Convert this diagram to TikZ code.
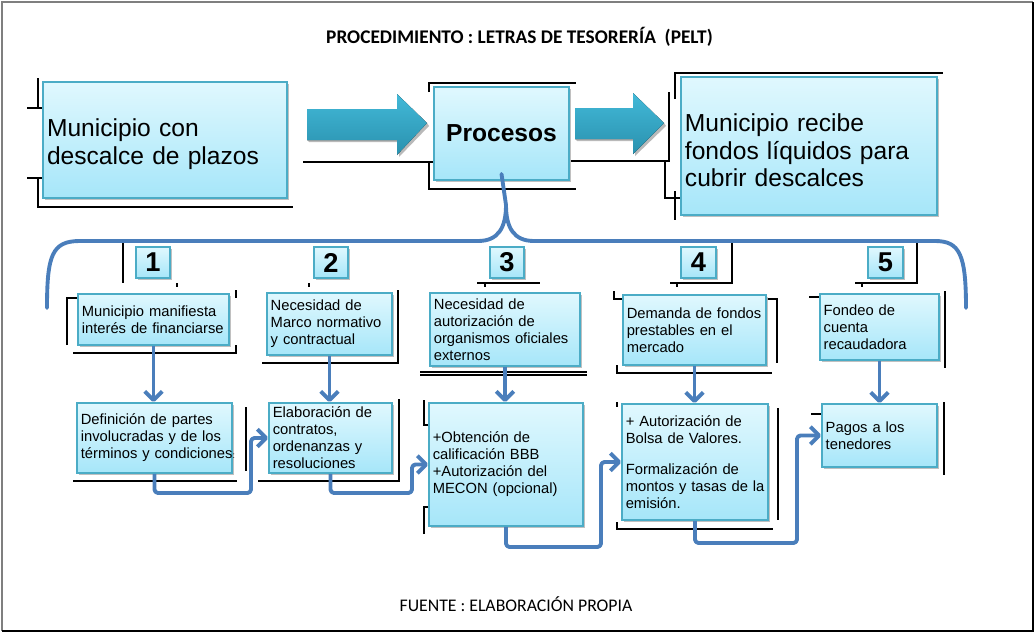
\documentclass[tikz,border=0pt]{standalone}
\usepackage{fontspec}
\setmainfont{Liberation Sans}
\newfontfamily\calib{Carlito}
\usetikzlibrary{arrows.meta,shadows}
\definecolor{boxtop}{HTML}{E0F8FE}
\definecolor{boxbot}{HTML}{A6E6F9}
\definecolor{boxline}{HTML}{4BACC6}
\definecolor{arrtop}{HTML}{42B9D8}
\definecolor{arrbot}{HTML}{2A91AE}
\definecolor{connc}{HTML}{4A7EBB}
\definecolor{framec}{HTML}{7F7F7F}
\begin{document}
\begin{tikzpicture}[x=0.02cm,y=-0.02cm,
  box/.style={draw=boxline, line width=1.1pt, top color=boxtop, bottom color=boxbot,
    inner xsep=2pt, inner ysep=1pt, align=left,
    drop shadow={shadow xshift=1.4pt, shadow yshift=-1.4pt, fill=gray!55, opacity=0.9}},
  small/.style={box, font=\fontsize{8.4}{9.7}\selectfont},
  big/.style={box, font=\fontsize{14}{15.9}\selectfont},
  num/.style={box, font=\fontsize{15.5}{16}\selectfont\bfseries, inner sep=0pt,
    minimum width=0.68cm, minimum height=0.62cm, align=center},
  conn/.style={draw=connc, line width=2.2pt, rounded corners=2pt, line join=round},
  arr/.style={conn, -{Straight Barb[length=5pt,width=10pt,line join=round]}},
  stray/.style={draw=black, line width=0.6pt},
  bigarrow/.style={top color=arrtop, bottom color=arrbot, draw=none}
]
\useasboundingbox (0,0) rectangle (1035,632);
% outer frame
\draw[framec, line width=1.3pt] (2,631) -- (2,2) -- (1033,2);
\draw[black, line width=0.8pt] (1033,2) -- (1033,631) -- (2,631);

% title and source
\node[font=\calib\bfseries\fontsize{11}{13}\selectfont] (title) at (519.5,37) {PROCEDIMIENTO : LETRAS DE TESORERÍA\ \ (PELT)};
\node[font=\calib\fontsize{10.1}{12}\selectfont] (src) at (516,604) {FUENTE : ELABORACIÓN PROPIA};

% stray frame lines
\draw[stray] (38,78) -- (38,108) (27,108) -- (43,108);
\draw[stray] (27,178) -- (43,178) (38,178) -- (38,207) -- (293,207);
\draw[stray] (429,92) -- (429,83) -- (576,83);
\draw[stray] (303,162) -- (434,162) (429,162) -- (429,189) -- (576,189);
\draw[stray] (571,161) -- (669,161) -- (669,92);
\draw[stray] (665,161) -- (665,198) -- (681,198);
\draw[stray] (675,99) -- (675,73) -- (943,73) (675,191) -- (675,220);
\draw[stray] (123,241) -- (123,283) (177,283) -- (177,287);
\draw[stray] (67,345) -- (67,298) -- (78,298) (236,290) -- (236,298) (73,353) -- (236,353) -- (236,345);
\draw[stray] (309,283) -- (309,287);
\draw[stray] (398,290) -- (398,363) -- (262,363);
\draw[stray] (477,283) -- (540,283) (485,283) -- (485,287);
\draw[stray] (420,372) -- (587,372) (420,375) -- (587,375);
\draw[stray] (732,241) -- (732,283) -- (670,283) (677,283) -- (677,287);
\draw[stray] (614,291) -- (614,299) -- (623,299) (766,299) -- (777,299) -- (777,363) (617,365) -- (617,373) -- (772,373);
\draw[stray] (917,241) -- (917,283) -- (855,283) (862,283) -- (862,287);
\draw[stray] (809,297) -- (820,297) (945,291) -- (945,368);
\draw[stray] (246,407) -- (246,471) (73,481) -- (237,481);
\draw[stray] (399,399) -- (399,481) -- (258,481);
\draw[stray] (424,400) -- (424,425) -- (429,425) (424,534) -- (424,507) -- (429,507);
\draw[stray] (617,402) -- (617,407) (778,408) -- (778,520) (617,522) -- (617,529) -- (773,529);
\draw[stray] (811,414) -- (822,414) (944,402) -- (944,475);

% big block arrows
\fill[gray!55] (309,142) -- (399,142) -- (399,157) -- (429,126) -- (427,123) -- (397,155) -- (397,140) -- (307,140) -- cycle;
\fill[bigarrow] (307,109) -- (397,109) -- (397,94) -- (427,123) -- (397,155) -- (397,140) -- (307,140) -- cycle;
\fill[gray!55] (577,141) -- (635,141) -- (635,156) -- (666,126) -- (664,123) -- (633,154) -- (633,139) -- (575,139) -- cycle;
\fill[bigarrow] (575,108) -- (633,108) -- (633,93) -- (664,123) -- (633,154) -- (633,139) -- (575,139) -- cycle;

% main boxes
\node[big, minimum width=4.88cm, minimum height=2.32cm, text width=134.3pt] (A) at (165,140)
  {\rule{0pt}{15pt}Municipio con\\descalce de plazos};
\node[big, minimum width=2.70cm, minimum height=1.86cm, align=center, font=\fontsize{14}{16}\selectfont\bfseries] (B) at (501.5,133.5) {Procesos};
\node[big, minimum width=5.12cm, minimum height=2.76cm, text width=141.2pt] (C) at (809,146)
  {\rule{0pt}{15pt}Municipio recibe\\fondos líquidos para\\cubrir descalces};

% brace
\coordinate (tip) at ([yshift=4pt]B.south);
\draw[conn, rounded corners=0pt, line cap=round] (47,308) .. controls (47,255) and (52,241) .. (80,241) -- (478,241) .. controls (498,241) and (506,228) .. (506,205) -- (tip);
\draw[conn, rounded corners=0pt, line cap=round] (506,205) .. controls (506,228) and (514,241) .. (534,241) -- (935,241) .. controls (960,241) and (966,255) .. (966,308);

% number boxes
\node[num] (n1) at (153,262.5) {1};
\node[num] (n2) at (331,262.5) {2};
\node[num] (n3) at (507,262.5) {3};
\node[num, minimum width=0.70cm] (n4) at (698.5,262.5) {4};
\node[num, minimum width=0.70cm] (n5) at (885.5,262.5) {5};

% upper row
\node[small, minimum width=3.02cm, minimum height=1.02cm, text width=81.6pt] (r1) at (153.5,319.5)
  {Municipio manifiesta\\interés de financiarse};
\node[small, minimum width=2.50cm, minimum height=1.24cm, text width=66.9pt] (r2) at (329.5,324)
  {Necesidad de\\Marco normativo\\y contractual};
\node[small, minimum width=3.00cm, minimum height=1.46cm, text width=81pt] (r3) at (505,329.5)
  {Necesidad de\\autorización de\\organismos oficiales\\externos};
\node[small, minimum width=2.86cm, minimum height=1.40cm, text width=77.1pt] (r4) at (694.5,330)
  {\mbox{Demanda de fondos}\\prestables en el\\mercado};
\node[small, minimum width=2.38cm, minimum height=1.32cm, text width=63.5pt] (r5) at (879.5,327)
  {Fondeo de\\cuenta\\recaudadora};

% lower row
\node[small, minimum width=3.10cm, minimum height=1.40cm, text width=83.9pt] (b1) at (154.5,438)
  {Definición de partes\\involucradas y de los\\\mbox{términos y condiciones}\rlap{\tiny :}};
\node[small, minimum width=2.46cm, minimum height=1.40cm, text width=65.7pt] (b2) at (330.5,438)
  {Elaboración de\\contratos,\\ordenanzas y\\resoluciones};
\node[small, minimum width=3.08cm, minimum height=2.46cm, text width=83.3pt] (b3) at (506,464.5)
  {+Obtención de\\calificación BBB\\+Autorización del\\MECON (opcional)};
\node[small, minimum width=2.92cm, minimum height=2.32cm, text width=78.8pt] (b4) at (695,462)
  {+ Autorización de\\Bolsa de Valores.\\[8pt]Formalización de\\\mbox{montos y tasas de la}\\emisión.};
\node[small, minimum width=2.30cm, minimum height=1.26cm, text width=61.2pt] (b5) at (879.5,435.5)
  {Pagos a los\\tenedores};

% vertical arrows
\draw[arr] (r1.south) -- (r1.south |- b1.north);
\draw[arr] (r2.south) -- (r2.south |- b2.north);
\draw[arr] (r3.south) -- (r3.south |- b3.north);
\draw[arr] (r4.south) -- (r4.south |- b4.north);
\draw[arr] (r5.south) -- (r5.south |- b5.north);

% step connectors
\coordinate (k1) at (251,493);
\coordinate (k2) at (412,493);
\coordinate (k3) at (601,547);
\coordinate (k4) at (797,543);
\draw[arr] (b1.south) |- (k1) |- (b2.west);
\draw[arr] (b2.south) |- (k2) |- (b3.west);
\draw[arr] (b3.south) |- (k3) |- (b4.west);
\draw[arr] (b4.south) |- (k4) |- (b5.west);
\end{tikzpicture}
\end{document}
